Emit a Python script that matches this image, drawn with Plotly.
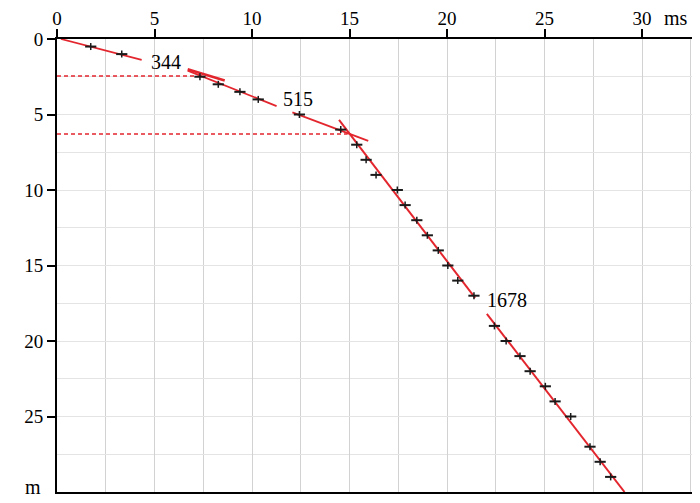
import plotly.graph_objects as go

# picked times (ms) and depths (m)
times = [1.73, 3.32, 7.33, 8.27, 9.38, 10.32, 12.43, 14.55, 15.37, 15.85,
         16.36, 17.45, 17.85, 18.45, 18.99, 19.55, 20.04, 20.55, 21.38, 22.43,
         23.03, 23.74, 24.26, 25.04, 25.54, 26.34, 27.33, 27.85, 28.39]
depths = [0.5, 1, 2.5, 3, 3.5, 4, 5, 6, 7, 8,
          9, 10, 11, 12, 13, 14, 15, 16, 17, 19,
          20, 21, 22, 23, 24, 25, 27, 28, 29]

# fitted velocity segments (gaps where the labels sit)
fit1_t = [0.2, 4.34]
fit1_d = [0.0, 1.39]
fit2_t = [6.7, 11.26, None, 12.07, 15.96]
fit2_d = [2.1, 4.44, None, 4.86, 6.75]
fit2b_t = [6.7, 8.6]
fit2b_d = [2.0, 2.75]
fit3_t = [14.46, 21.44, None, 22.04, 29.1]
fit3_d = [5.36, 17.15, None, 18.2, 30.0]

# layer boundaries (dashed)
bound1_t = [0, 7.16]
bound1_d = [2.45, 2.45]
bound2_t = [0, 14.9]
bound2_d = [6.29, 6.29]

labels = ["344", "515", "1678"]
label_t = [5.6, 12.35, 23.05]
label_d = [1.5, 4.0, 17.3]

red = "#e3262e"
serif = "Liberation Serif"
tickfont = dict(family=serif, size=19, color="black")

fig = go.Figure()

for bt, bd in [(bound1_t, bound1_d), (bound2_t, bound2_d)]:
    fig.add_trace(go.Scatter(x=bt, y=bd, mode="lines",
                             line=dict(color=red, width=1.7, dash="4px,3px")))

fig.add_trace(go.Scatter(x=fit1_t, y=fit1_d, mode="lines", line=dict(color=red, width=1.8)))
fig.add_trace(go.Scatter(x=fit2_t, y=fit2_d, mode="lines", line=dict(color=red, width=1.8)))
fig.add_trace(go.Scatter(x=fit2b_t, y=fit2b_d, mode="lines", line=dict(color=red, width=2.5)))
fig.add_trace(go.Scatter(x=fit3_t, y=fit3_d, mode="lines", line=dict(color=red, width=2)))

fig.add_trace(go.Scatter(x=times, y=depths, mode="markers",
                         marker=dict(symbol="line-ew", size=8,
                                     line=dict(color="#1a1a1a", width=2))))
fig.add_trace(go.Scatter(x=times, y=depths, mode="markers",
                         marker=dict(symbol="line-ns", size=5,
                                     line=dict(color="#1a1a1a", width=1.5))))

for txt, lt, ld in zip(labels, label_t, label_d):
    fig.add_annotation(x=lt, y=ld, text=txt, showarrow=False,
                       font=dict(family=serif, size=20, color="black"))

# axis unit labels (page is offset by the 8px body margin)
fig.add_annotation(xref="paper", yref="paper", x=(676 - 57) / 635, y=1 + 21 / 453,
                   xanchor="center", yanchor="middle",
                   text="ms", showarrow=False,
                   font=dict(family=serif, size=20, color="black"))
fig.add_annotation(xref="paper", yref="paper", x=-24 / 635, y=-(-5) / 453,
                   xanchor="center", yanchor="middle",
                   text="m", showarrow=False,
                   font=dict(family=serif, size=20, color="black"))

fig.update_layout(
    width=692, height=495,
    margin=dict(l=49, r=8, t=31, b=11),
    paper_bgcolor="white", plot_bgcolor="white",
    showlegend=False,
    font=dict(family=serif, size=19, color="black"),
    xaxis=dict(side="top", range=[0, 32.56], tick0=0, dtick=5, automargin=False,
               ticks="outside", ticklen=8, tickwidth=2, tickcolor="black",
               tickfont=tickfont, ticklabelstandoff=-4,
               showline=True, linecolor="black", linewidth=2, mirror=True,
               showgrid=True, gridcolor="#d2d2d2", gridwidth=1, zeroline=False,
               minor=dict(dtick=2.5, showgrid=True, gridcolor="#d2d2d2", ticks="")),
    yaxis=dict(range=[30, 0], tickvals=[0, 5, 10, 15, 20, 25], automargin=False,
               ticks="outside", ticklen=8, tickwidth=2, tickcolor="black",
               tickfont=tickfont,
               showline=True, linecolor="black", linewidth=2, mirror=True,
               showgrid=True, gridcolor="#e4e4e4", gridwidth=1, zeroline=False,
               minor=dict(dtick=2.5, showgrid=True, gridcolor="#e4e4e4", ticks="")),
)

fig.write_html("out.html")
